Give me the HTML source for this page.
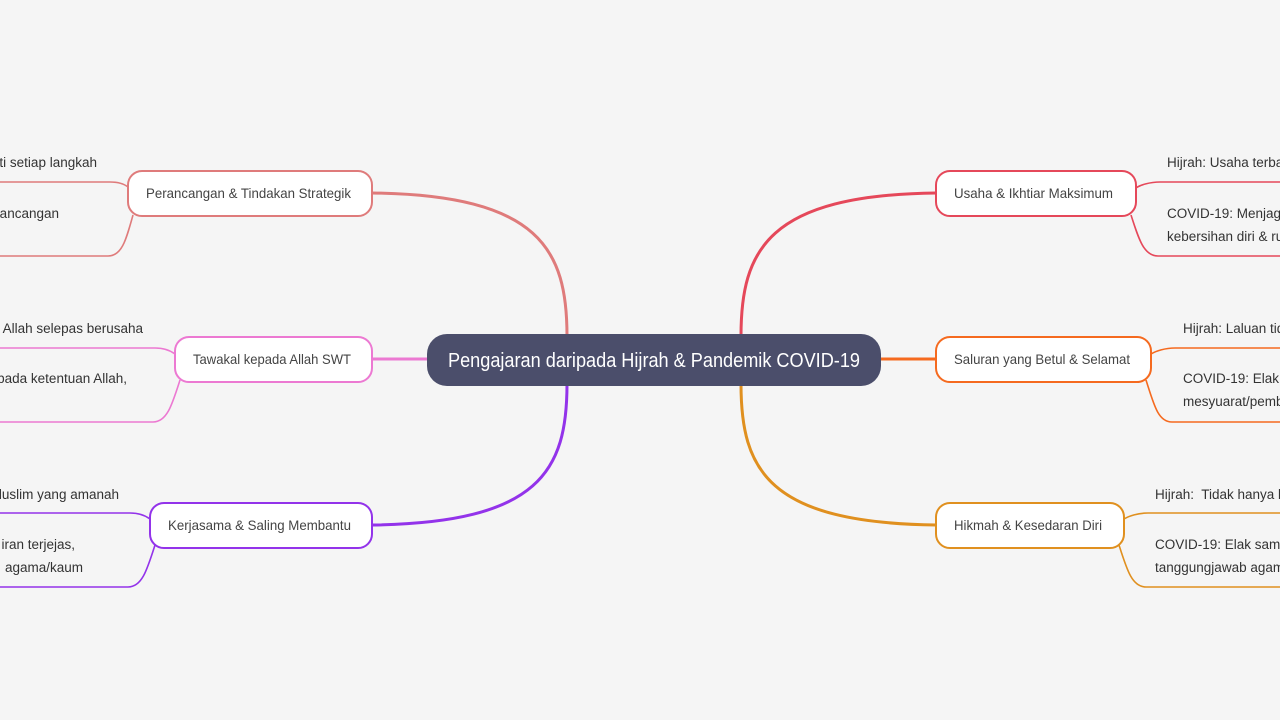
<!DOCTYPE html>
<html><head><meta charset="utf-8"><style>
html,body{margin:0;padding:0;background:#f5f5f5;width:1280px;height:720px;overflow:hidden}
svg{display:block}
text{font-family:"Liberation Sans",sans-serif}
.n{font-size:14px;fill:#444}
.t{font-size:13.5px;fill:#333}
</style></head><body>
<svg width="1280" height="720" viewBox="0 0 1280 720">
<rect width="1280" height="720" fill="#f5f5f5"/>
<g fill="none" stroke-width="3">
<path d="M372,193 C540,195 567,250 567,336" stroke="#df7b7b"/>
<path d="M372,359 L430,359" stroke="#ec79d2"/>
<path d="M372,525 C540,523 567,470 567,384" stroke="#9333ea"/>
<path d="M936,193 C768,195 741,250 741,336" stroke="#e5485a"/>
<path d="M878,359 L936,359" stroke="#f56a1f"/>
<path d="M936,525 C768,523 741,470 741,384" stroke="#e0901f"/>
</g>
<g fill="none" stroke-width="1.6">
<path d="M0,182 L110,182 C120,182 126,185 129,188" stroke="#df7b7b"/>
<path d="M0,256 L108,256 C122,256 126,240 133,215" stroke="#df7b7b"/>
<path d="M0,348 L155,348 C165,348 171,351 175,354" stroke="#ec79d2"/>
<path d="M0,422 L153,422 C167,422 172,405 180,380" stroke="#ec79d2"/>
<path d="M0,513 L130,513 C140,513 146,516 150,519" stroke="#9333ea"/>
<path d="M0,587 L128,587 C142,587 147,570 155,545" stroke="#9333ea"/>
<path d="M1280,182 L1160,182 C1150,182 1140,185 1136,188" stroke="#e5485a"/>
<path d="M1280,256 L1158,256 C1144,256 1139,240 1131,215" stroke="#e5485a"/>
<path d="M1280,348 L1175,348 C1165,348 1156,351 1151,354" stroke="#f56a1f"/>
<path d="M1280,422 L1172,422 C1158,422 1154,405 1146,380" stroke="#f56a1f"/>
<path d="M1280,513 L1148,513 C1138,513 1129,516 1124,519" stroke="#e0901f"/>
<path d="M1280,587 L1146,587 C1132,587 1127,570 1119,545" stroke="#e0901f"/>
</g>
<g fill="#fff" stroke-width="2">
<rect x="128" y="171" width="244" height="45" rx="14" stroke="#df7b7b"/>
<rect x="175" y="337" width="197" height="45" rx="14" stroke="#ec79d2"/>
<rect x="150" y="503" width="222" height="45" rx="14" stroke="#9333ea"/>
<rect x="936" y="171" width="200" height="45" rx="14" stroke="#e5485a"/>
<rect x="936" y="337" width="215" height="45" rx="14" stroke="#f56a1f"/>
<rect x="936" y="503" width="188" height="45" rx="14" stroke="#e0901f"/>
</g>
<rect x="427" y="334" width="454" height="52" rx="20" fill="#4b4e6b"/>
<text x="448" y="367" font-size="20" fill="#fff" textLength="412" lengthAdjust="spacingAndGlyphs">Pengajaran daripada Hijrah &amp; Pandemik COVID-19</text>
<g class="n">
<text x="146" y="198" textLength="205" lengthAdjust="spacingAndGlyphs">Perancangan &amp; Tindakan Strategik</text>
<text x="193" y="364" textLength="158" lengthAdjust="spacingAndGlyphs">Tawakal kepada Allah SWT</text>
<text x="168" y="530" textLength="183" lengthAdjust="spacingAndGlyphs">Kerjasama &amp; Saling Membantu</text>
<text x="954" y="198" textLength="159" lengthAdjust="spacingAndGlyphs">Usaha &amp; Ikhtiar Maksimum</text>
<text x="954" y="364" textLength="176" lengthAdjust="spacingAndGlyphs">Saluran yang Betul &amp; Selamat</text>
<text x="954" y="530" textLength="148" lengthAdjust="spacingAndGlyphs">Hikmah &amp; Kesedaran Diri</text>
</g>
<g class="t">
<text x="97" y="167" text-anchor="end">ti setiap langkah</text>
<text x="59" y="218" text-anchor="end">rancangan</text>
<text x="143" y="333" text-anchor="end">a Allah selepas berusaha</text>
<text x="127" y="383" text-anchor="end">pada ketentuan Allah,</text>
<text x="119" y="499" text-anchor="end">luslim yang amanah</text>
<text x="75" y="549" text-anchor="end">iran terjejas,</text>
<text x="83" y="572" text-anchor="end">agama/kaum</text>
<text x="1167" y="167">Hijrah: Usaha terbaik</text>
<text x="1167" y="218">COVID-19: Menjaga</text>
<text x="1167" y="241">kebersihan diri &amp; rumah</text>
<text x="1183" y="333">Hijrah: Laluan tidak</text>
<text x="1183" y="383">COVID-19: Elak terlibat</text>
<text x="1183" y="406">mesyuarat/pembelajaran</text>
<text x="1155" y="499" xml:space="preserve">Hijrah:  Tidak hanya berlaku</text>
<text x="1155" y="549">COVID-19: Elak sambutan</text>
<text x="1155" y="572">tanggungjawab agama</text>
</g>
</svg>
</body></html>
